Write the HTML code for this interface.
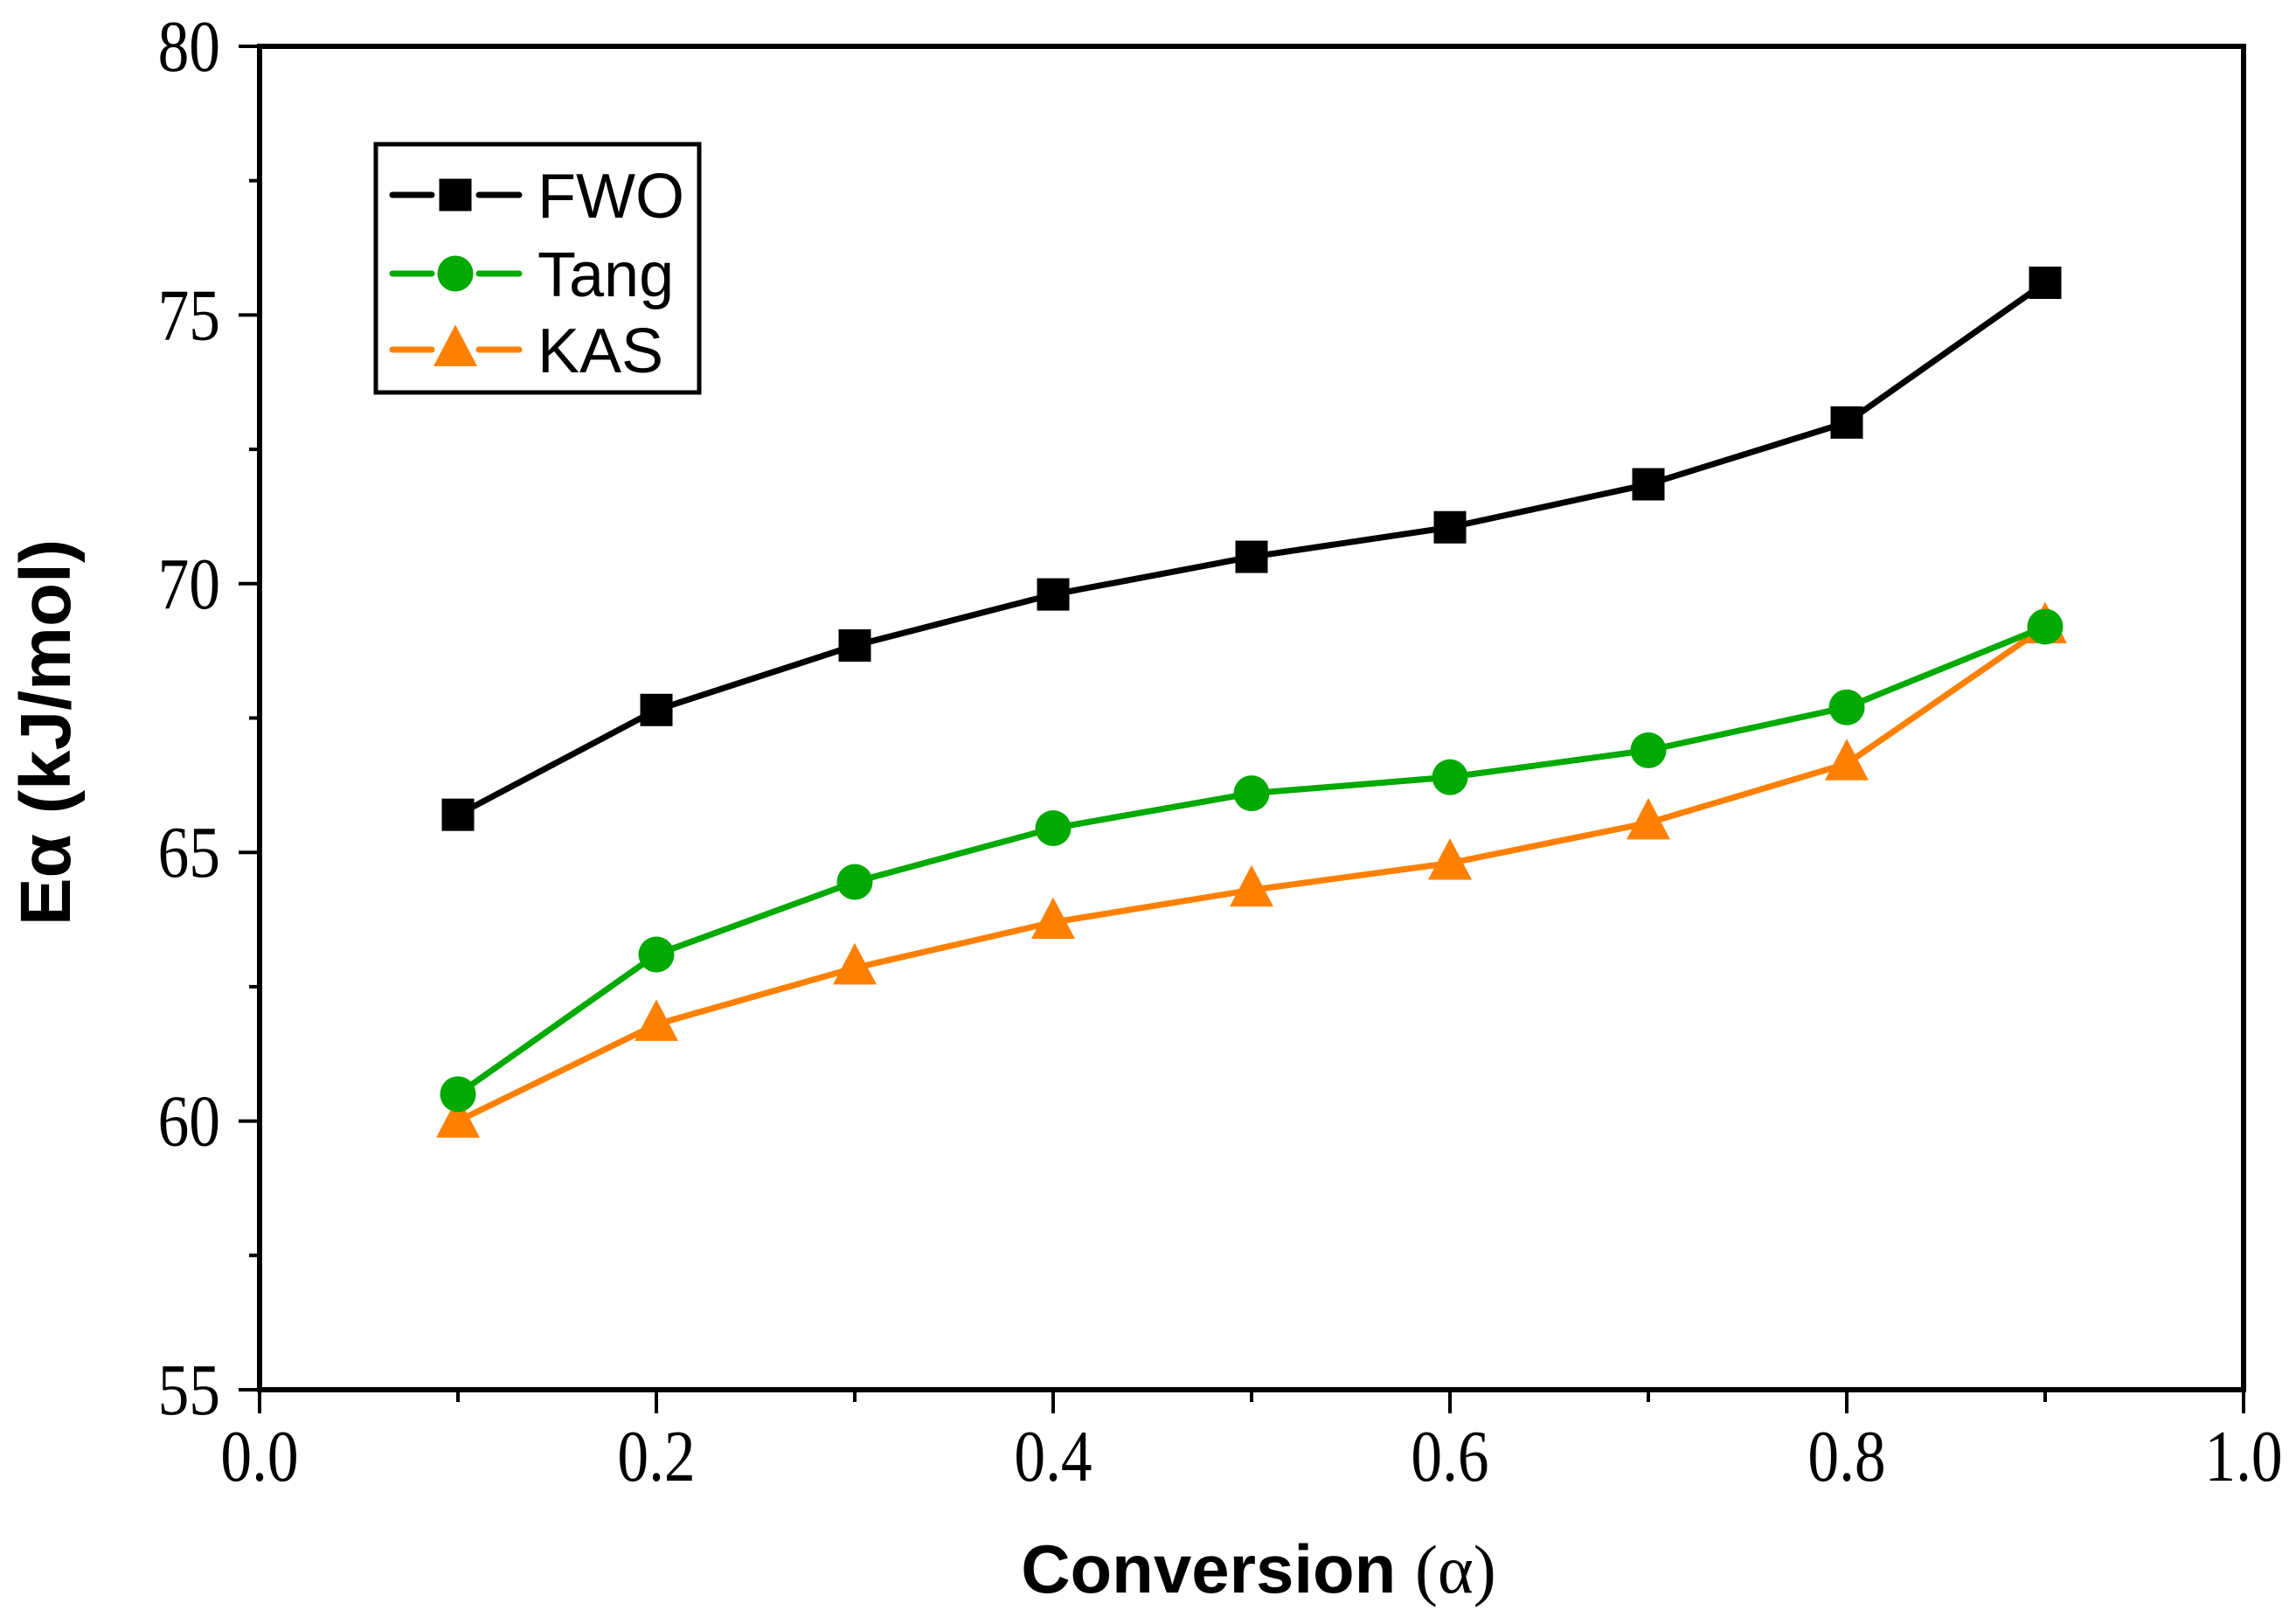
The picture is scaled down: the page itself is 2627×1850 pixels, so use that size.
<!DOCTYPE html>
<html><head><meta charset="utf-8"><style>
html,body{margin:0;padding:0;background:#fff;}
svg{display:block;}
</style></head><body>
<svg id="chart" width="2627" height="1850" viewBox="0 0 2627 1850" xmlns="http://www.w3.org/2000/svg">
<rect width="2627" height="1850" fill="#fff"/>
<g id="plot"></g>
</svg>
<script>
const categories = [0.1,0.2,0.3,0.4,0.5,0.6,0.7,0.8,0.9];
const fwoValues = [65.7,67.65,68.85,69.8,70.5,71.05,71.85,73.0,75.6];
const tangValues = [60.5,63.1,64.45,65.45,66.1,66.4,66.9,67.7,69.2];
const kasValues = [60.0,61.8,62.85,63.7,64.3,64.8,65.55,66.65,69.2];
const xTickLabels = ["0.0","0.2","0.4","0.6","0.8","1.0"];
const xTickValues = [0,0.2,0.4,0.6,0.8,1.0];
const yTickLabels = ["55","60","65","70","75","80"];
const yTickValues = [55,60,65,70,75,80];

const NS="http://www.w3.org/2000/svg";
const L=297,R=2567,T=53,B=1590;
const xMin=0,xMax=1,yMin=55,yMax=80;
function xs(v){return L+(v-xMin)/(xMax-xMin)*(R-L);}
function ys(v){return B-(v-yMin)/(yMax-yMin)*(B-T);}
const g=document.getElementById('plot');
function mk(tag,attrs,parent){const e=document.createElementNS(NS,tag);for(const k in attrs)e.setAttribute(k,attrs[k]);(parent||g).appendChild(e);return e;}

const frame=mk('rect',{x:L,y:T,width:R-L,height:B-T,fill:'none',stroke:'#000','stroke-width':6});



for(let i=0;i<=10;i++){
  const v=i/10, major=i%2===0;
  const t=mk('line',{x1:xs(v),x2:xs(v),y1:B,y2:B+(major?27:14),stroke:'#000','stroke-width':4});
  
  
}
xTickValues.forEach((v,i)=>{
  const t=mk('text',{x:0,y:0,'text-anchor':'middle','font-family':'Liberation Serif, serif','font-size':84,transform:`translate(${xs(v)},1694) scale(0.85,1)`});
  t.textContent=xTickLabels[i];
  
  
});
for(let v=55;v<=80;v+=2.5){
  const major=(v%5===0);
  const t=mk('line',{x1:L-(major?24:12),x2:L,y1:ys(v),y2:ys(v),stroke:'#000','stroke-width':4});
  
  
}
yTickValues.forEach((v,i)=>{
  const t=mk('text',{x:0,y:0,'text-anchor':'end','font-family':'Liberation Serif, serif','font-size':84,transform:`translate(252,${ys(v)+28}) scale(0.85,1)`});
  t.textContent=yTickLabels[i];
  
  
});

const xt=mk('text',{x:1440,y:1822,'text-anchor':'middle','font-family':'Liberation Sans, sans-serif','font-size':78,'font-weight':'bold'});
xt.innerHTML='Conversion <tspan font-family="Liberation Serif, serif" font-weight="normal">(α)</tspan>';


const yt=mk('text',{x:0,y:0,'text-anchor':'middle','font-family':'Liberation Sans, sans-serif','font-size':82,'font-weight':'bold',transform:'translate(80,838) rotate(-90)'});
yt.textContent='Eα (kJ/mol)';



function marker(type,cx,cy,color,parent,size){
  let e;
  if(type==='square'){e=mk('rect',{x:cx-size/2,y:cy-size/2,width:size,height:size,fill:color},parent);}
  else if(type==='circle'){e=mk('circle',{cx:cx,cy:cy,r:size/2,fill:color},parent);}
  else {const h=size*0.95;e=mk('polygon',{points:`${cx},${cy-h*0.6} ${cx-size/2},${cy+h*0.4} ${cx+size/2},${cy+h*0.4}`,fill:color},parent);}
  return e;
}
const series=[
  {name:'fwo',vals:fwoValues,color:'#000000',type:'square',size:37},
  {name:'tang',vals:tangValues,color:'#00aa00',type:'circle',size:41},
  {name:'kas',vals:kasValues,color:'#ff8000',type:'triangle',size:50}
];
series.slice().reverse().forEach(s=>{
  const sg=mk('g',{});
  
  
  const pts=categories.map((c,i)=>xs(c)+','+ys(s.vals[i])).join(' ');
  const pl=mk('polyline',{points:pts,fill:'none',stroke:s.color,'stroke-width':7,'stroke-linejoin':'round'},sg);
  
  
  categories.forEach((c,i)=>{
    const m=marker(s.type,xs(c),ys(s.vals[i]),s.color,sg,s.size);
    
    
  });
});

const lg=mk('g',{});


mk('rect',{x:430,y:165,width:370,height:284,fill:'#fff',stroke:'#000','stroke-width':5},lg);
const labels=['FWO','Tang','KAS'], rowsY=[223,313,400];
series.forEach((s,i)=>{
  const eg=mk('g',{},lg);
  
  
  mk('line',{x1:449,x2:494,y1:rowsY[i],y2:rowsY[i],stroke:s.color,'stroke-width':7,'stroke-linecap':'round'},eg);
  mk('line',{x1:548,x2:594,y1:rowsY[i],y2:rowsY[i],stroke:s.color,'stroke-width':7,'stroke-linecap':'round'},eg);
  marker(s.type,521,rowsY[i],s.color,eg,s.size);
  const t=mk('text',{x:615,y:rowsY[i]+26,'font-family':'Liberation Sans, sans-serif','font-size':72},eg);
  t.textContent=labels[i];
});
</script>
</body></html>
